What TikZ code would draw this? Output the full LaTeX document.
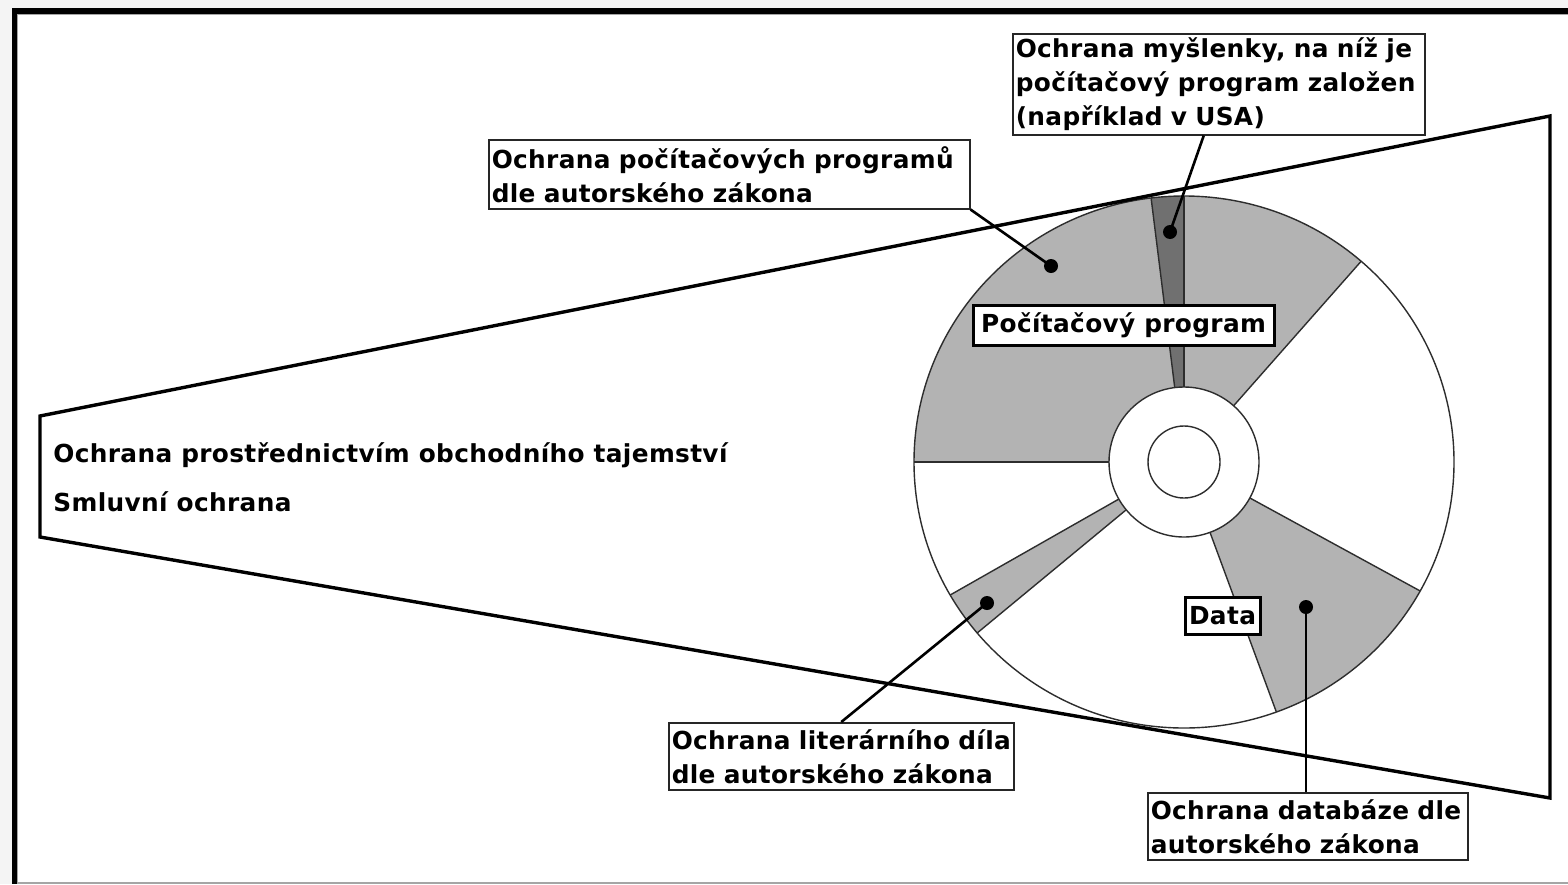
\documentclass[tikz,border=0pt]{standalone}
\usepackage{fontspec}
\setmainfont{DejaVu Sans}[LetterSpace=1.4]
\definecolor{bggray}{RGB}{244,244,244}
\definecolor{sectgray}{RGB}{179,179,179}
\definecolor{darksect}{RGB}{112,112,112}
\definecolor{discline}{RGB}{45,45,45}
\definecolor{edgegray}{RGB}{165,165,165}
\tikzset{
  lbl/.style={font=\fontsize{12.4}{17}\selectfont\bfseries},
  callout/.style={lbl, draw=black!85, line width=0.75pt, fill=white, anchor=north west, align=left, inner xsep=1.5pt, inner ysep=0pt},
  tagbox/.style={lbl, draw=black, line width=1.5pt, fill=white, inner sep=0pt},
  leader/.style={line width=1.3pt, black},
  dotn/.style={circle, fill=black, inner sep=0pt, minimum size=7pt},
  plaintext/.style={lbl, anchor=base west, inner sep=0pt},
  sector/.style={fill=sectgray},
  rim/.style={draw=discline, line width=0.7pt},
  trap/.style={draw=black, line width=1.7pt, line join=miter}
}
\begin{document}
\begin{tikzpicture}[x=0.5pt,y=-0.5pt]
\useasboundingbox (0,0) rectangle (1568,884);
% frame
\fill[bggray] (0,0) rectangle (1568,884);
\fill[white] (12,8) rectangle (1568,883);
\fill[black] (12,8) rectangle (1568,14);
\fill[black] (12,8) rectangle (17,884);
\draw[edgegray, line width=0.5pt] (17.5,884) -- (17.5,14.5) -- (1568,14.5);
\draw[edgegray, line width=0.6pt] (17,883) -- (1568,883);

% disc
\coordinate (C) at (1184,462);
\fill[white] (C) ellipse[x radius=270, y radius=266];
\fill[sector] (C) -- ++(-97:270 and 266) arc[start angle=-97, end angle=-180, x radius=270, y radius=266] -- cycle;
\fill[darksect] (C) -- ++(-90:270 and 266) arc[start angle=-90, end angle=-97, x radius=270, y radius=266] -- cycle;
\fill[sector] (C) -- ++(-49:270 and 266) arc[start angle=-49, end angle=-90, x radius=270, y radius=266] -- cycle;
\fill[sector] (C) -- ++(29:270 and 266) arc[start angle=29, end angle=70, x radius=270, y radius=266] -- cycle;
\fill[sector] (C) -- ++(140:270 and 266) arc[start angle=140, end angle=150, x radius=270, y radius=266] -- cycle;
\foreach \a in {180,-97,-90,-49,29,70,140,150}
  \draw[rim] (C) -- ++(\a:270 and 266);
\draw[rim] (C) ellipse[x radius=270, y radius=266];
\filldraw[rim, fill=white] (C) circle[radius=75];
\draw[rim] (C) circle[radius=36];

% trapezoid
\draw[trap] (40,416) -- (1550,116) -- (1550,798) -- (40,537) -- cycle;

% texts at left
\node[plaintext] (tajemstvi) at (53,462) {Ochrana prostřednictvím obchodního tajemství};
\node[plaintext] (smluvni) at (53,511) {Smluvní ochrana};

% labels on disc
\node[tagbox, minimum width=150.5pt, minimum height=20pt] (program) at (1123.5,325) {Počítačový program};
\node[tagbox, minimum width=37.5pt, minimum height=18.5pt] (data) at (1222.5,615.5) {Data};

% dots
\node[dotn] (d1) at (1051,266) {};
\node[dotn] (d2) at (1170,232) {};
\node[dotn] (d3) at (987,603) {};
\node[dotn] (d4) at (1306,607) {};

% callouts
\node[callout, text width=203pt, minimum height=50.5pt] (myslenka) at (1012,33) {\mbox{Ochrana myšlenky, na níž je}\\\mbox{počítačový program založen}\\\mbox{(například v USA)}};
\node[callout, text width=237.5pt, minimum height=34.5pt] (programy) at (488,139) {\mbox{Ochrana počítačových programů}\\\mbox{dle autorského zákona}};
\node[callout, text width=169.5pt, minimum height=33.5pt] (literarni) at (668,722) {\mbox{Ochrana literárního díla}\\\mbox{dle autorského zákona}};
\node[callout, text width=157pt, minimum height=33.5pt] (databaze) at (1147,792) {\mbox{Ochrana databáze dle}\\\mbox{autorského zákona}};

% leaders
\draw[leader] (programy.south east) -- (d1.center);
\draw[leader] ([xshift=-7.5pt]myslenka.south) -- (d2.center);
\draw[leader] (literarni.north) -- (d3.center);
\draw[leader] (d4 |- databaze.north) -- (d4.center);
\end{tikzpicture}
\end{document}
